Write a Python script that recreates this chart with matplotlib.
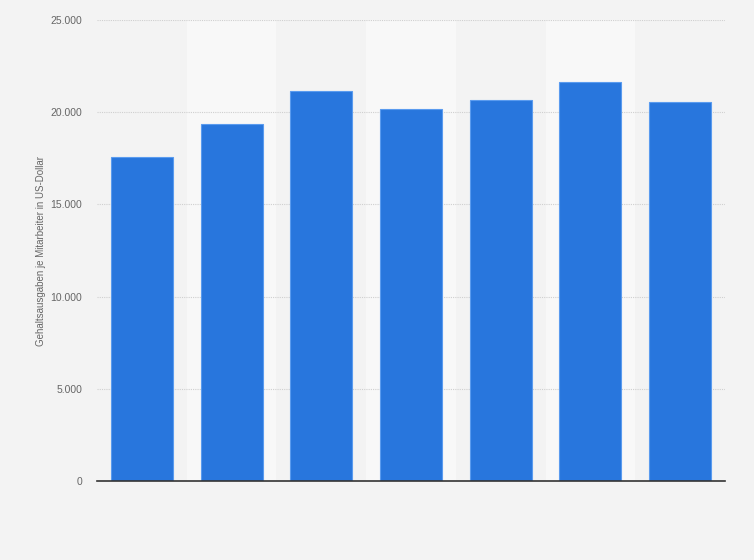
#!/usr/bin/env python3
# Gehaltsausgaben je Mitarbeiter - bar chart

import matplotlib
matplotlib.use("Agg")
import matplotlib.pyplot as plt
from matplotlib.ticker import FuncFormatter

plt.rcParams["font.family"] = ["Liberation Sans", "DejaVu Sans"]

categories = ["1", "2", "3", "4", "5", "6", "7"]
values = [17570, 19360, 21150, 20160, 20650, 21620, 20540]
yticks = [0, 5000, 10000, 15000, 20000, 25000]
ylabel = "Gehaltsausgaben je Mitarbeiter in US-Dollar"

bg = "#f3f3f3"
band = "#f8f8f8"
bar_color = "#2876dd"

fig = plt.figure(figsize=(7.54, 5.6), dpi=100)
fig.patch.set_facecolor(bg)
ax = fig.add_axes([97 / 754, 79 / 560, 628 / 754, 461 / 560])
ax.set_facecolor(bg)

x = list(range(len(categories)))
for i in x:
    if i % 2 == 1:
        ax.axvspan(i - 0.5, i + 0.5, color=band, zorder=0, lw=0)

ax.bar(x, values, width=0.69, color=bar_color, edgecolor="#5a9bef",
       linewidth=0.8, zorder=3)

ax.set_xlim(-0.5, len(categories) - 0.5)
ax.set_ylim(0, 25000)
ax.set_yticks(yticks)
ax.yaxis.set_major_formatter(
    FuncFormatter(lambda v, p: f"{int(v):,}".replace(",", ".")))
ax.set_xticks([])
ax.grid(axis="y", color="#cfcfcf", linestyle=(0, (1, 1)), linewidth=0.8,
        zorder=1)
ax.tick_params(axis="y", length=0, pad=10.5, labelsize=7.5,
               labelcolor="#666666")
for s in ["top", "right", "left"]:
    ax.spines[s].set_visible(False)
ax.spines["bottom"].set_color("#333333")
ax.spines["bottom"].set_linewidth(1.2)
ax.spines["bottom"].set_zorder(4)

ax.set_ylabel(ylabel, fontsize=7, color="#666666", labelpad=3)

fig.savefig("out.png", dpi=100, facecolor=bg)
